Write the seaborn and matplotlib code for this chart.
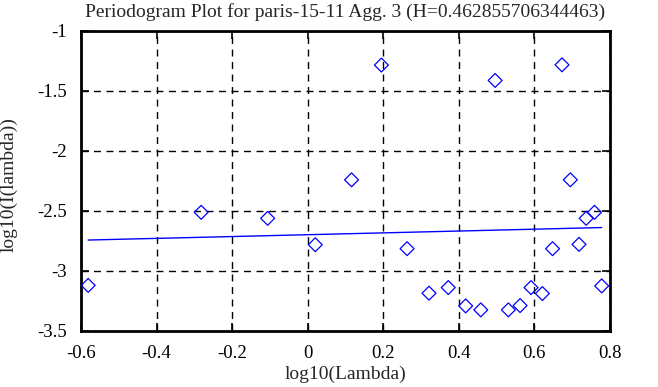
import matplotlib
matplotlib.use("Agg")
import matplotlib.pyplot as plt
import seaborn as sns
import pandas as pd

log_lambda = [-0.581, -0.282, -0.106, 0.020, 0.116, 0.195, 0.263, 0.321, 0.372,
              0.418, 0.458, 0.496, 0.531, 0.562, 0.591, 0.621, 0.648, 0.673,
              0.695, 0.718, 0.737, 0.759, 0.778]
log_I = [-3.120, -2.511, -2.561, -2.781, -2.240, -1.284, -2.814, -3.185, -3.138,
         -3.291, -3.324, -1.412, -3.324, -3.288, -3.138, -3.188, -2.814, -1.282,
         -2.240, -2.778, -2.561, -2.511, -3.124]
fit_x = [-0.581, 0.778]
fit_y = [-2.742, -2.638]
xticks = [-0.6, -0.4, -0.2, 0, 0.2, 0.4, 0.6, 0.8]
yticks = [-3.5, -3, -2.5, -2, -1.5, -1]
title = "Periodogram Plot for paris-15-11 Agg. 3 (H=0.462855706344463)"

sns.set_style("ticks")
plt.rcParams['font.family'] = ['Liberation Serif', 'DejaVu Serif']

fig = plt.figure(figsize=(6.58, 3.87), dpi=100)
ax = fig.add_axes([81/658, 1-331/387, (610-81)/658, (331-31)/387])

df = pd.DataFrame({"x": log_lambda, "y": log_I})
sns.scatterplot(data=df, x="x", y="y", ax=ax, marker="D", s=50,
                facecolors="none", edgecolor="blue", linewidth=0.9, zorder=3)
sns.lineplot(x=fit_x, y=fit_y, ax=ax, color="blue", linewidth=1.0, zorder=2)

ax.set_xlim(-0.6, 0.8)
ax.set_ylim(-3.5, -1)
ax.set_xticks(xticks)
ax.set_xticklabels([f"{t:g}" for t in xticks])
ax.set_yticks(yticks)
ax.set_yticklabels([f"{t:g}" for t in yticks])
ax.grid(True, color="black", linestyle=(0, (5, 4)), linewidth=1.0)
ax.tick_params(direction="in", length=6, width=1.2, top=True, right=True,
               labelsize=13.5, colors="black")
ax.tick_params(axis="x", pad=10)
ax.tick_params(axis="y", pad=10)
for s in ax.spines.values():
    s.set_linewidth(2)
    s.set_color("black")
    s.set_visible(True)
ax.set_xlabel("log10(Lambda)", fontsize=14)
ax.set_ylabel("log10(I(lambda))", fontsize=14)
ax.xaxis.set_label_coords(0.5, -0.115)
ax.yaxis.set_label_coords(-0.119, 0.487)
ax.set_title(title, fontsize=14, pad=10)

fig.savefig("out.png", dpi=100)
